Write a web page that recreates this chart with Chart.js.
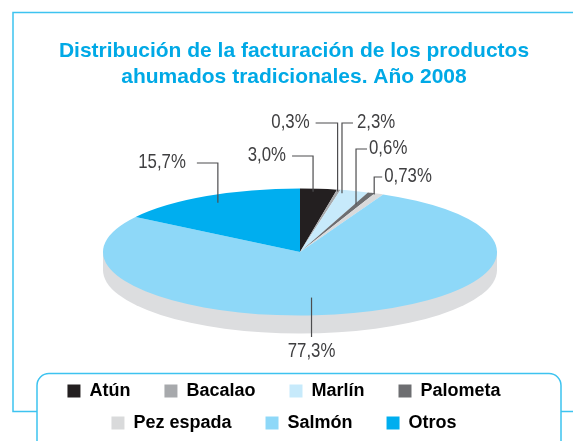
<!DOCTYPE html>
<html>
<head>
<meta charset="utf-8">
<script src="https://cdn.jsdelivr.net/npm/chart.js@4.4.0/dist/chart.umd.min.js"></script>
<style>
  html, body { margin: 0; padding: 0; background: #fff; }
  #wrap { width: 573px; height: 441px; }
</style>
</head>
<body>
<div id="wrap"><canvas id="pieChart" width="573" height="441"></canvas></div>
<script>
const categories = ['Atún', 'Bacalao', 'Marlín', 'Palometa', 'Pez espada', 'Salmón', 'Otros'];
const shares = [3.0, 0.3, 2.3, 0.6, 0.73, 77.3, 15.7];
const sliceColors = ['#231f20', '#a7a9ac', '#c7eafb', '#6d6e71', '#d9dadb', '#8ed8f8', '#00aeef'];

const SANS = "'Liberation Sans', Arial, sans-serif";
const BLUE = '#3dc3f0';
// the flat pie is drawn as an ellipse with a grey rim under it
const pie = { cx: 300, cy: 252, rx: 197, ry: 63.5, depth: 18 };
// t = where along the slice the leader starts, f = fraction of radius, y = level of the text, dx = elbow
const callouts = [
  { t: 0.37, f: 0.95, y: 156, dx: -21, gap: 6 },
  { t: 0.5, f: 0.97, y: 123, dx: -22, gap: 6 },
  { t: 0.13, f: 0.95, y: 123, dx: 11, gap: 4 },
  { t: 0.3, f: 0.8, y: 149, dx: 11, gap: 2 },
  { t: 0.1, f: 0.98, y: 177, dx: 8, gap: 2 },
  { t: 0.54, f: 0.72, y: 337, dx: 0, gap: 14 },
  { t: 0.5, f: 0.88, y: 163, dx: -21, gap: 11 }
];

const fmt = v => String(v % 1 ? v : v.toFixed(1)).replace('.', ',') + '%';

const framePlugin = {
  id: 'frame',
  beforeDraw(chart) {
    const ctx = chart.ctx;
    ctx.save();
    ctx.fillStyle = '#fff';
    ctx.fillRect(0, 0, chart.width, chart.height);
    ctx.strokeStyle = BLUE;
    ctx.lineWidth = 1.5;
    ctx.beginPath();
    ctx.moveTo(37, 411.5);
    ctx.lineTo(13, 411.5);
    ctx.lineTo(13, 12.5);
    ctx.lineTo(chart.width, 12.5);
    ctx.moveTo(561, 411.5);
    ctx.lineTo(chart.width, 411.5);
    ctx.stroke();
    ctx.beginPath();
    ctx.roundRect(37, 373.5, 524, 100, 12);
    ctx.stroke();
    ctx.restore();
  }
};

const ellipsePlugin = {
  id: 'ellipse',
  beforeDatasetsDraw(chart) {
    const ctx = chart.ctx;
    const arc = chart.getDatasetMeta(0).data[0];
    ctx.save();
    ctx.fillStyle = '#dcdddf';
    ctx.beginPath();
    ctx.ellipse(pie.cx, pie.cy + pie.depth, pie.rx, pie.ry, 0, 0, Math.PI);
    ctx.lineTo(pie.cx - pie.rx, pie.cy);
    ctx.lineTo(pie.cx + pie.rx, pie.cy);
    ctx.closePath();
    ctx.fill();
    ctx.translate(pie.cx, pie.cy);
    ctx.scale(pie.rx / arc.outerRadius, pie.ry / arc.outerRadius);
    ctx.translate(-arc.x, -arc.y);
  },
  afterDatasetsDraw(chart) {
    const ctx = chart.ctx;
    ctx.restore();
    ctx.save();
    ctx.strokeStyle = '#4d4d4f';
    ctx.lineWidth = 1.2;
    ctx.fillStyle = '#3f3f41';
    ctx.font = '21px ' + SANS;
    ctx.textBaseline = 'middle';
    chart.getDatasetMeta(0).data.forEach((arc, i) => {
      const c = callouts[i];
      const a = arc.startAngle + (arc.endAngle - arc.startAngle) * c.t;
      const x = pie.cx + pie.rx * c.f * Math.cos(a);
      const y = pie.cy + pie.ry * c.f * Math.sin(a);
      ctx.beginPath();
      ctx.moveTo(x, y);
      ctx.lineTo(x, c.y);
      ctx.lineTo(x + c.dx, c.y);
      ctx.stroke();
      let tx = x + c.dx, ty = c.y - 1;
      if (c.dx === 0) {
        ctx.textAlign = 'center';
        ty = c.y + c.gap;
      } else if (c.dx < 0) {
        ctx.textAlign = 'right';
        tx -= c.gap;
      } else {
        ctx.textAlign = 'left';
        tx += c.gap;
      }
      // condensed look: squeeze the text sideways
      ctx.save();
      ctx.translate(tx, ty);
      ctx.scale(0.8, 1);
      ctx.fillText(fmt(shares[i]), 0, 0);
      ctx.restore();
    });
    ctx.restore();
  }
};

new Chart(document.getElementById('pieChart'), {
  type: 'pie',
  data: {
    labels: categories,
    datasets: [{
      data: shares,
      backgroundColor: sliceColors,
      borderWidth: 0,
      clip: false
    }]
  },
  options: {
    responsive: false,
    animation: false,
    layout: { padding: { left: 15, bottom: -1 } },
    plugins: {
      title: {
        display: true,
        text: ['Distribución de la facturación de los productos', 'ahumados tradicionales. Año 2008'],
        color: '#00a9e6',
        font: { family: SANS, size: 21, weight: 'bold', lineHeight: 1.2 },
        padding: { top: 39, bottom: 10 }
      },
      legend: {
        position: 'bottom',
        labels: {
          boxWidth: 13,
          boxHeight: 13,
          padding: 14,
          color: '#231f20',
          font: { family: SANS, size: 18, weight: 'bold' },
          generateLabels: chart => chart.data.labels.map((text, i) => ({
            text: text + '    ',
            fillStyle: sliceColors[i],
            strokeStyle: sliceColors[i],
            lineWidth: 0,
            hidden: false,
            index: i
          }))
        }
      },
      tooltip: { enabled: false }
    }
  },
  plugins: [framePlugin, ellipsePlugin]
});
</script>
</body>
</html>
